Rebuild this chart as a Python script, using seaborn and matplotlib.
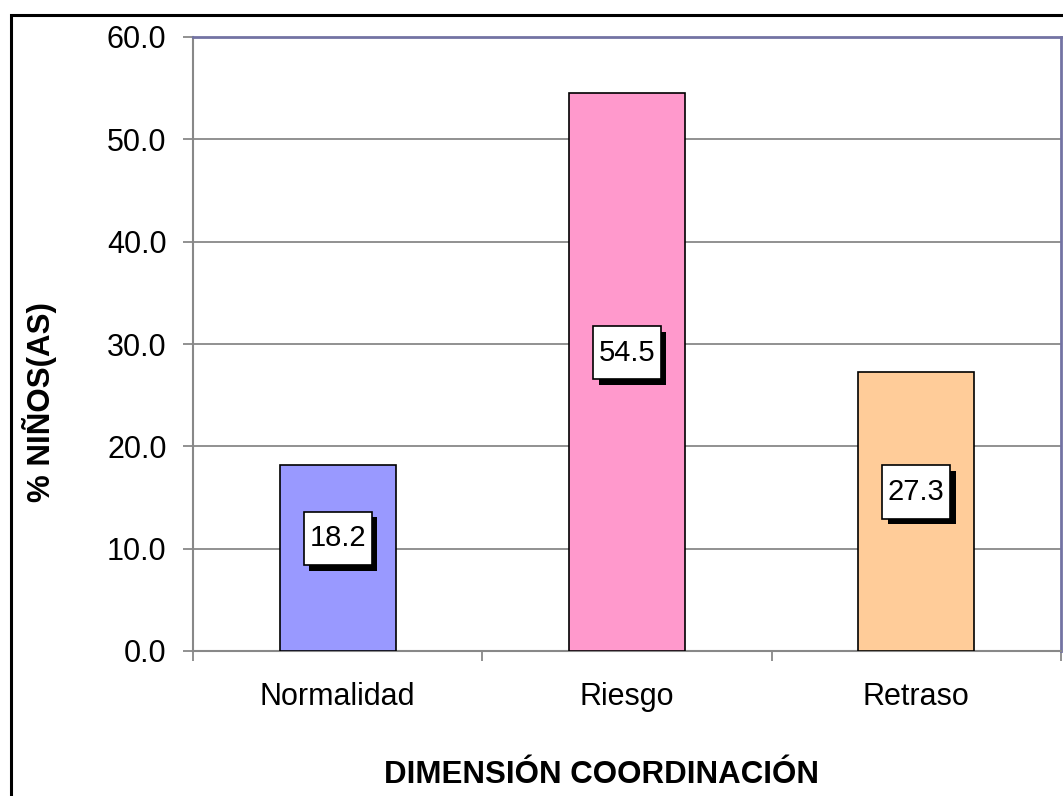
import matplotlib
matplotlib.use("Agg")
import matplotlib.pyplot as plt
import matplotlib.patheffects as pe
from matplotlib.patches import Rectangle
import seaborn as sns
import pandas as pd

categories = ["Normalidad", "Riesgo", "Retraso"]
values = [18.2, 54.5, 27.3]
bar_colors = ["#9999FF", "#FF99CC", "#FFCC99"]
yticks = [0, 10, 20, 30, 40, 50, 60]
xlabel = "DIMENSIÓN COORDINACIÓN"
ylabel = "% NIÑOS(AS)"

sns.set_theme(style="white")
plt.rcParams["font.family"] = ["Liberation Sans", "DejaVu Sans"]
plt.rcParams["text.color"] = "black"
plt.rcParams["axes.labelcolor"] = "black"
plt.rcParams["xtick.labelcolor"] = "black"
plt.rcParams["ytick.labelcolor"] = "black"

df = pd.DataFrame({"cat": categories, "val": values})

fig = plt.figure(figsize=(10.63, 7.96), dpi=100)
ax = fig.add_axes([193/1063, 1 - 651/796, (1061-193)/1063, (651-37)/796])

sns.barplot(data=df, x="cat", y="val", hue="cat", palette=bar_colors, legend=False,
            saturation=1, width=0.4, edgecolor="black", linewidth=1.2, ax=ax, zorder=3)

ax.set_ylim(0, 60)
ax.set_xlim(-0.5, 2.5)
ax.set_yticks(yticks)
ax.set_yticklabels([f"{t:.1f}" for t in yticks], fontsize=22)
ax.yaxis.grid(True, color="#888888", linewidth=1.3, zorder=0)
ax.set_axisbelow(True)

ax.tick_params(axis="y", which="major", direction="out", length=7, width=1.3,
               color="#888888", pad=12, left=True)
ax.set_xticks([0, 1, 2])
ax.set_xticklabels(categories, fontsize=22)
ax.set_xticks([-0.5, 0.5, 1.5, 2.5], minor=True)
ax.tick_params(axis="x", which="major", length=0, pad=22)
ax.tick_params(axis="x", which="minor", direction="out", length=7, width=1.3,
               color="#888888", bottom=True)

for side in ["left", "bottom"]:
    ax.spines[side].set_color("#888888")
    ax.spines[side].set_linewidth(1.5)
for side in ["top", "right"]:
    ax.spines[side].set_color("#7373A3")
    ax.spines[side].set_linewidth(2)

ax.set_xlabel(xlabel, fontsize=22.5, fontweight="bold", va="center")
ax.xaxis.set_label_coords((602-193)/868, (651-775)/614)
ax.set_ylabel(ylabel, fontsize=22.5, fontweight="bold", va="center")
ax.yaxis.set_label_coords((40-193)/868, (651-402)/614)

for i, v in enumerate(values):
    t = ax.annotate(f"{v:.1f}", xy=(i, v/2), xytext=(0, 14), textcoords="offset points",
                    ha="center", va="center", fontsize=21, zorder=5,
                    bbox=dict(boxstyle="square,pad=0.19", fc="white", ec="black", lw=1.2,
                              mutation_aspect=2.3))
    t.get_bbox_patch().set_path_effects([
        pe.SimplePatchShadow(offset=(4, -4), shadow_rgbFace="black", alpha=1.0),
        pe.Normal()])

fig.patches.append(Rectangle((11/1063, -0.1), 1.2, 1 - 15/796 + 0.1,
                             transform=fig.transFigure, fill=False,
                             edgecolor="black", linewidth=2.2, zorder=0))

fig.savefig("out.png", dpi=100)
